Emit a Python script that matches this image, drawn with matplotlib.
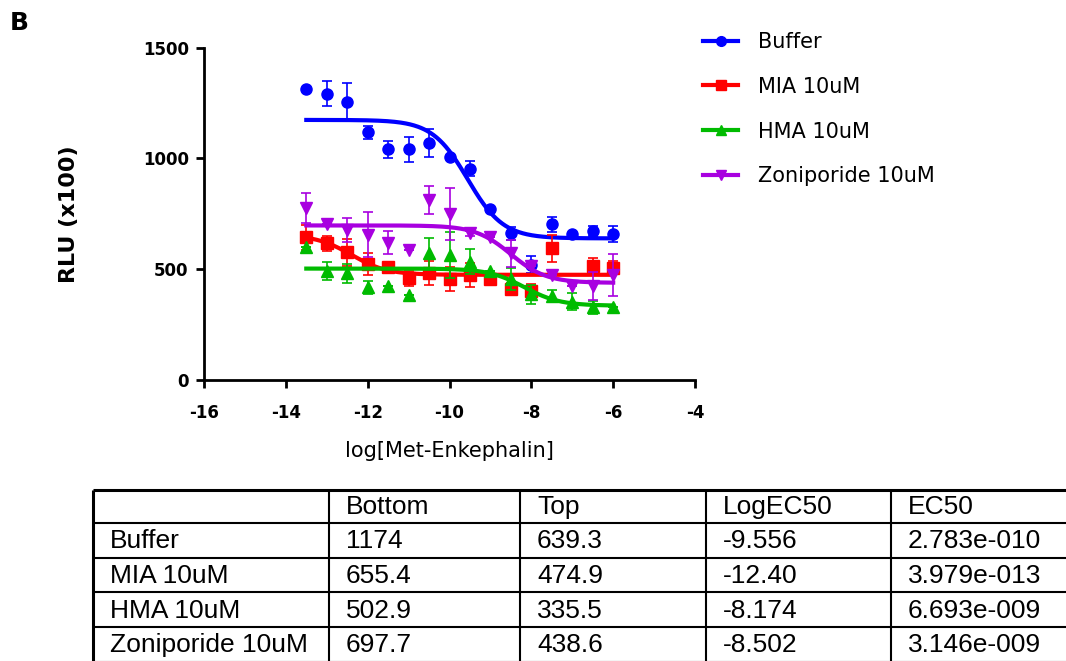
import numpy as np
import matplotlib
matplotlib.use("Agg")
import matplotlib.pyplot as plt
from matplotlib.lines import Line2D

plt.rcParams['font.family'] = ['DejaVu Sans']

# log[Met-Enkephalin] doses
log_dose = [-13.5, -13, -12.5, -12, -11.5, -11, -10.5, -10, -9.5, -9, -8.5, -8, -7.5, -7, -6.5, -6]

# RLU (x100), mean and error
buffer_y = [1314, 1293, 1255, 1118, 1041, 1041, 1070, 1007, 954, 771, 662, 521, 703, 660, 672, 659]
buffer_err = [0, 55, 85, 30, 40, 56, 63, 0, 34, 0, 30, 37, 33, 0, 24, 35]
mia_y = [644, 617, 576, 524, 512, 459, 482, 456, 474, 455, 411, 402, 594, np.nan, 516, 507]
mia_err = [55, 34, 60, 49, 0, 35, 53, 52, 56, 0, 27, 30, 60, 0, 36, 30]
hma_y = [600, 492, 481, 418, 426, 384, 572, 564, 534, 493, 455, 388, 379, 354, 328, 328]
hma_err = [0, 40, 41, 28, 0, 0, 68, 104, 56, 0, 50, 43, 27, 40, 30, 0]
zon_y = [775, 704, 677, 655, 620, 587, 813, 749, 662, 645, 572, 515, 474, 426, 424, 474]
zon_err = [68, 0, 53, 102, 53, 0, 64, 116, 10, 0, 60, 0, 0, 0, 63, 97]

# fit results (table)
row_names = ["Buffer", "MIA 10uM", "HMA 10uM", "Zoniporide 10uM"]
col_names = ["", "Bottom", "Top", "LogEC50", "EC50"]
fit_bottom = ["1174", "655.4", "502.9", "697.7"]
fit_top = ["639.3", "474.9", "335.5", "438.6"]
fit_logec50 = ["-9.556", "-12.40", "-8.174", "-8.502"]
fit_ec50 = ["2.783e-010", "3.979e-013", "6.693e-009", "3.146e-009"]

xticks = [-16, -14, -12, -10, -8, -6, -4]
yticks = [0, 500, 1000, 1500]

colors = ['#0000FF', '#FF0000', '#00BB00', '#A800E0']
markers = ['o', 's', '^', 'v']
series = [buffer_y, mia_y, hma_y, zon_y]
errs = [buffer_err, mia_err, hma_err, zon_err]

W, H = 1066, 661
fig = plt.figure(figsize=(W / 100, H / 100), dpi=100)

ax = fig.add_axes([204 / W, 1 - 380 / H, 491 / W, 332.3 / H])
xc = np.linspace(log_dose[0], log_dose[-1], 300)
handles = []
for i in range(4):
    ax.errorbar(log_dose, series[i], yerr=errs[i], fmt=markers[i], color=colors[i],
                ms=8, elinewidth=1.2, capsize=3.5, capthick=1.2, zorder=3 + i, clip_on=False)
    # 4-parameter logistic from the fitted values, slope 1
    a, b, ec = float(fit_bottom[i]), float(fit_top[i]), float(fit_logec50[i])
    yc = a + (b - a) / (1 + 10 ** (ec - xc))
    ax.plot(xc, yc, color=colors[i], lw=3, zorder=3 + i)
    handles.append(Line2D([], [], color=colors[i], marker=markers[i], lw=3, ms=7))

ax.set_xlim(-16, -4)
ax.set_ylim(0, 1500)
ax.set_xticks(xticks)
ax.set_xticklabels([str(t) for t in xticks], fontweight='bold', fontsize=12)
ax.set_yticks(yticks)
ax.set_yticklabels([str(t) for t in yticks], fontweight='bold', fontsize=12)
for s in ['top', 'right']:
    ax.spines[s].set_visible(False)
for s in ['left', 'bottom']:
    ax.spines[s].set_linewidth(2)
ax.tick_params(axis='both', direction='out', length=6, width=2)
ax.tick_params(axis='x', pad=11)
ax.tick_params(axis='y', pad=5)
ax.set_xlabel('log[Met-Enkephalin]', fontsize=15, labelpad=14)
ax.set_ylabel('RLU (x100)', fontsize=16, fontweight='bold', labelpad=46)

fig.legend(handles, row_names, loc='upper left', bbox_to_anchor=(703 / W, 1 - 32 / H),
           frameon=False, fontsize=15, handlelength=1.7, handletextpad=0.95,
           labelspacing=1.19, borderpad=0, borderaxespad=0)

fig.text(10 / W, 1 - 23 / H, 'B', fontsize=18, fontweight='bold', va='center', ha='left')

# table drawn in pixel coordinates
tab = fig.add_axes([0, 0, 1, 1], zorder=-1)
tab.set_xlim(0, W)
tab.set_ylim(H, 0)
tab.axis('off')
col_x = [93, 329, 520, 706, 891, 1085]
row_y = [489.5, 523, 557.7, 592.4, 627.1, 661.8]
for j, cx in enumerate(col_x):
    tab.plot([cx, cx], [row_y[0], row_y[-1]], color='black', lw=2.2 if j == 0 else 1.5,
             solid_capstyle='butt')
for k, ry in enumerate(row_y):
    tab.plot([col_x[0], col_x[-1]], [ry, ry], color='black', lw=2.2 if k == 0 else 1.5,
             solid_capstyle='butt')
cells = [col_names] + [[row_names[r], fit_bottom[r], fit_top[r], fit_logec50[r], fit_ec50[r]]
                       for r in range(4)]
for r, row in enumerate(cells):
    yc_ = (row_y[r] + row_y[r + 1]) / 2 + 1
    for c, txt in enumerate(row):
        tab.text(col_x[c] + 17, yc_, txt, fontsize=19, family=['Liberation Sans', 'DejaVu Sans'],
                 va='center', ha='left')

fig.savefig('out.png', dpi=100)
